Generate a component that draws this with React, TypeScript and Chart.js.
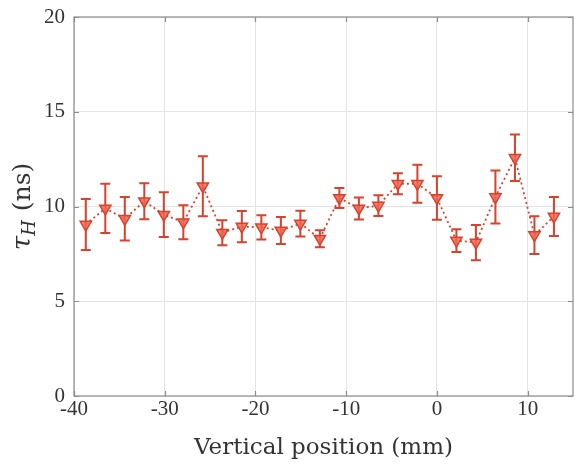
import React, { useEffect, useRef } from "react";
import { Chart, registerables } from "chart.js";

Chart.register(...registerables);

const xPositions = [
  -38.7, -36.55, -34.4, -32.25, -30.1, -27.95, -25.8, -23.65, -21.5, -19.35,
  -17.2, -15.05, -12.9, -10.75, -8.6, -6.45, -4.3, -2.15, 0, 2.15, 4.3, 6.45,
  8.6, 10.75, 12.9,
];
const tauValues = [
  9.05, 9.9, 9.35, 10.28, 9.57, 9.17, 11.07, 8.62, 8.94, 8.9, 8.73, 9.1, 8.3,
  10.45, 9.9, 10.05, 11.2, 11.2, 10.45, 8.2, 8.1, 10.5, 12.57, 8.49, 9.47,
];
const tauErrors = [
  1.35, 1.3, 1.15, 0.95, 1.18, 0.9, 1.58, 0.66, 0.82, 0.64, 0.71, 0.68, 0.45,
  0.53, 0.58, 0.55, 0.55, 1.0, 1.15, 0.6, 0.93, 1.4, 1.23, 1.0, 1.03,
];
const xTicks = [-40, -30, -20, -10, 0, 10];
const yTicks = [0, 5, 10, 15, 20];

const RED = "#d8412b";
const FONT = "'Liberation Serif', 'DejaVu Serif', serif";
const TITLE_FONT = "'DejaVu Serif', 'Liberation Serif', serif";

const errorBarPlugin = {
  id: "errorBars",
  beforeDatasetsDraw(chart: any) {
    const { ctx, scales } = chart;
    const xs = scales.x;
    const ys = scales.y;
    ctx.save();
    ctx.strokeStyle = RED;
    ctx.lineWidth = 2;
    const cap = 5;
    xPositions.forEach((xv, i) => {
      const px = xs.getPixelForValue(xv);
      const top = ys.getPixelForValue(tauValues[i] + tauErrors[i]);
      const bot = ys.getPixelForValue(tauValues[i] - tauErrors[i]);
      ctx.beginPath();
      ctx.moveTo(px, top);
      ctx.lineTo(px, bot);
      ctx.moveTo(px - cap, top);
      ctx.lineTo(px + cap, top);
      ctx.moveTo(px - cap, bot);
      ctx.lineTo(px + cap, bot);
      ctx.stroke();
    });
    ctx.restore();
  },
};

const framePlugin = {
  id: "frame",
  afterDraw(chart: any) {
    const { ctx, chartArea, scales } = chart;
    const { left, right, top, bottom } = chartArea;
    ctx.save();
    ctx.strokeStyle = "#8c8c8c";
    ctx.lineWidth = 1.2;
    ctx.strokeRect(left, top, right - left, bottom - top);
    const tl = 5;
    ctx.beginPath();
    xTicks.forEach((v) => {
      const px = Math.round(scales.x.getPixelForValue(v)) + 0.5;
      ctx.moveTo(px, bottom);
      ctx.lineTo(px, bottom - tl);
      ctx.moveTo(px, top);
      ctx.lineTo(px, top + tl);
    });
    yTicks.forEach((v) => {
      const py = Math.round(scales.y.getPixelForValue(v)) + 0.5;
      ctx.moveTo(left, py);
      ctx.lineTo(left + tl, py);
      ctx.moveTo(right, py);
      ctx.lineTo(right - tl, py);
    });
    ctx.stroke();

    // y-axis title: τ_H (ns)
    const cy = (top + bottom) / 2;
    ctx.translate(23, cy);
    ctx.rotate(-Math.PI / 2);
    ctx.fillStyle = "#333333";
    ctx.textBaseline = "alphabetic";
    const f1 = `italic 26px ${TITLE_FONT}`;
    const f2 = `italic 18px ${TITLE_FONT}`;
    const f3 = `25px ${TITLE_FONT}`;
    ctx.font = f1;
    const w1 = ctx.measureText("τ").width;
    ctx.font = f2;
    const w2 = ctx.measureText("H").width;
    ctx.font = f3;
    const w3 = ctx.measureText(" (ns)").width;
    const total = w1 + w2 + 1 + w3;
    let x = -total / 2;
    const base = 7;
    ctx.font = f1;
    ctx.fillText("τ", x, base);
    x += w1;
    ctx.font = f2;
    ctx.fillText("H", x, base + 5);
    x += w2 + 1;
    ctx.font = f3;
    ctx.fillText(" (ns)", x, base);
    ctx.restore();
  },
};

export default function App() {
  const ref = useRef<HTMLCanvasElement | null>(null);
  useEffect(() => {
    if (!ref.current) return;
    const chart = new Chart(ref.current, {
      type: "line",
      data: {
        datasets: [
          {
            data: xPositions.map((x, i) => ({ x, y: tauValues[i] })),
            borderColor: RED,
            borderWidth: 1.8,
            borderDash: [2, 3],
            pointStyle: "triangle",
            rotation: 180,
            pointRadius: 6.5,
            pointBorderWidth: 1.5,
            pointBackgroundColor: "rgba(238,104,84,0.85)",
            pointBorderColor: RED,
            tension: 0,
          },
        ],
      },
      options: {
        animation: false,
        responsive: false,
        layout: { autoPadding: false, padding: { top: 17, right: 2, left: 0, bottom: 0 } },
        plugins: { legend: { display: false }, tooltip: { enabled: false } },
        scales: {
          x: {
            type: "linear",
            min: -40,
            max: 15,
            afterBuildTicks: (s: any) => {
              s.ticks = xTicks.map((v) => ({ value: v }));
            },
            afterFit: (s: any) => {
              s.height = 70;
              s.paddingLeft = 0;
              s.paddingRight = 0;
            },
            grid: { color: "#e4e4e4", drawTicks: false, lineWidth: 1 },
            border: { display: false },
            ticks: {
              padding: 1,
              color: "#333333",
              font: { family: FONT, size: 21 },
              maxRotation: 0,
              callback: (v: any) => String(v),
            },
            title: {
              display: true,
              text: "Vertical position (mm)",
              color: "#333333",
              font: { family: TITLE_FONT, size: 23 },
              padding: { top: 0, bottom: 4 },
            },
          },
          y: {
            type: "linear",
            min: 0,
            max: 20,
            afterBuildTicks: (s: any) => {
              s.ticks = yTicks.map((v) => ({ value: v }));
            },
            afterFit: (s: any) => {
              s.width = 74;
              s.paddingTop = 0;
              s.paddingBottom = 0;
            },
            grid: { color: "#e4e4e4", drawTicks: false, lineWidth: 1 },
            border: { display: false },
            ticks: {
              padding: 9,
              color: "#333333",
              font: { family: FONT, size: 21 },
              callback: (v: any) => String(v),
            },
          },
        },
      },
      plugins: [errorBarPlugin, framePlugin],
    } as any);
    return () => chart.destroy();
  }, []);
  return (
    <div style={{ position: "fixed", left: 0, top: 0, width: 575, height: 466, background: "#fff" }}>
      <canvas ref={ref} width={575} height={466} style={{ display: "block" }} />
    </div>
  );
}
